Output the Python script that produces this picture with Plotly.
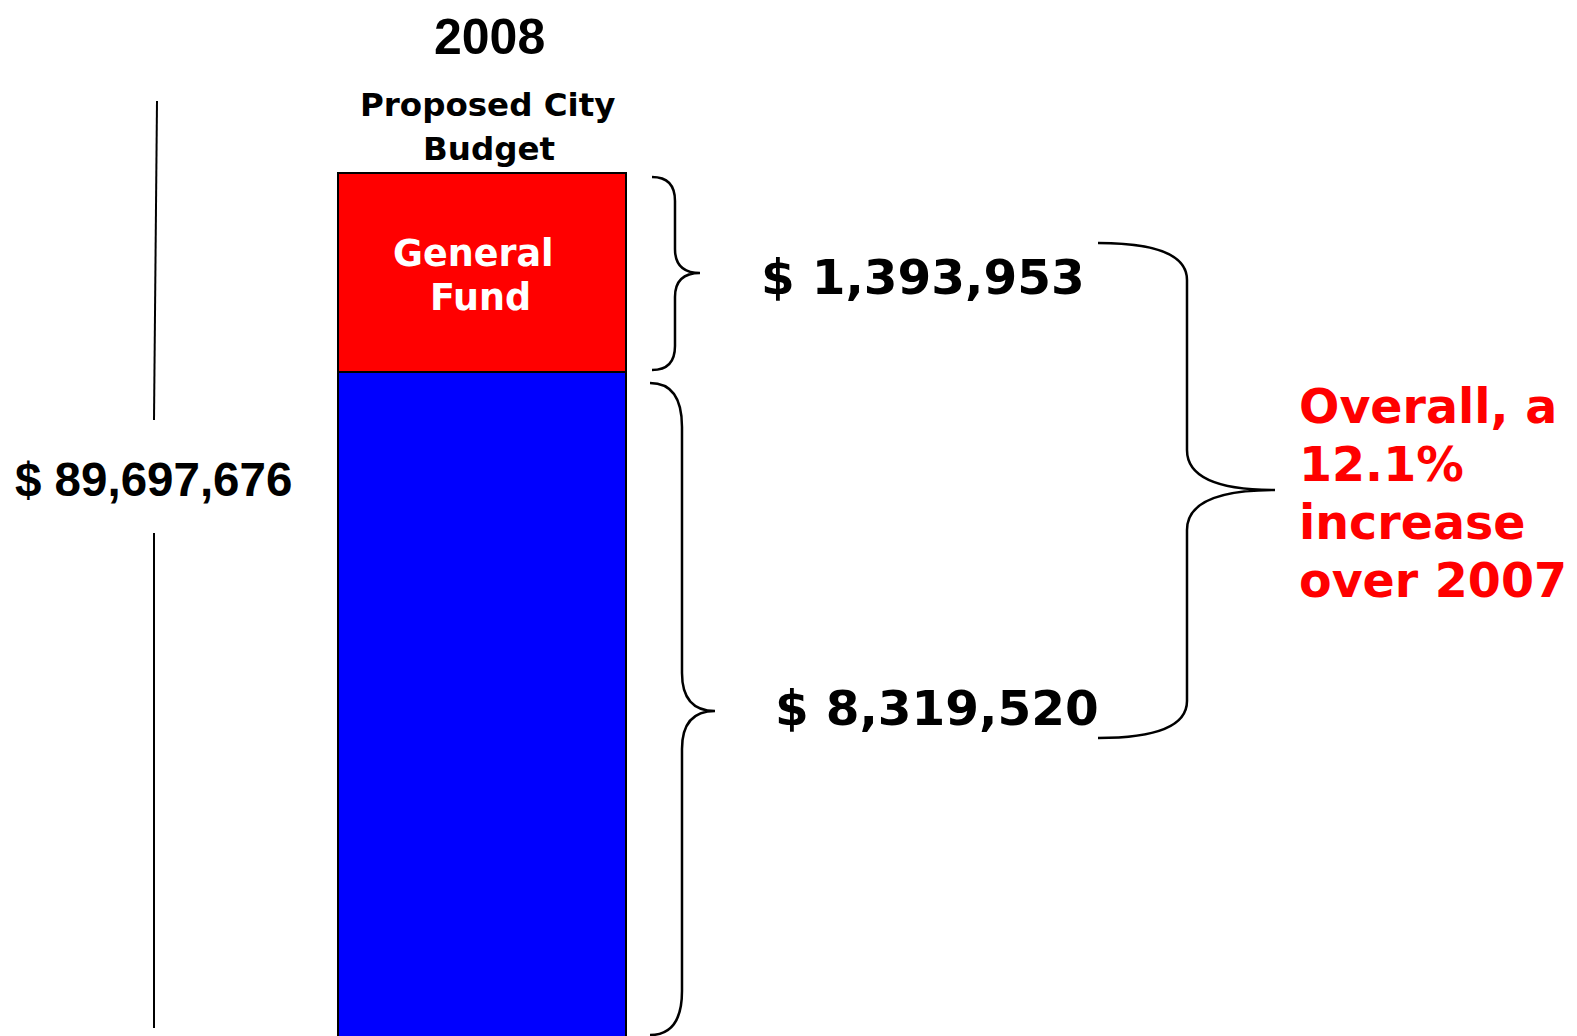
import plotly.graph_objects as go

# ---- data (values in millions of dollars) ----
categories = [0]
other_funds = [69.1]
general_fund = [20.6]
segment_names = ["Other Funds", "General Fund"]
year_label = "2008"
bar_title = ["Proposed City", "Budget"]
total_label = "$ 89,697,676"
gf_increase_label = "$ 1,393,953"
other_increase_label = "$ 8,319,520"
summary_lines = ["Overall, a", "12.1%", "increase", "over 2007"]

W, H = 1577, 1036
OFF = 8  # page body margin offset


def px(x):
    return (x - OFF) / W


def py(y):
    return 1 - (y - OFF) / H


def P(x, y):
    return f"{px(x):.5f},{py(y):.5f}"


def brace(x0, y0, y1, xv, xt, yt, r1, r2):
    # right-pointing curly brace in pixel coords -> paper path
    return (
        f"M {P(x0, y0)} Q {P(xv, y0)} {P(xv, y0 + r1)} "
        f"L {P(xv, yt - r2)} Q {P(xv, yt)} {P(xt, yt)} "
        f"Q {P(xv, yt)} {P(xv, yt + r2)} "
        f"L {P(xv, y1 - r1)} Q {P(xv, y1)} {P(x0, y1)}"
    )


fig = go.Figure()
fig.add_trace(go.Bar(x=categories, y=other_funds, width=1, name=segment_names[0],
                     marker=dict(color="#0000FF", line=dict(color="black", width=2.5))))
fig.add_trace(go.Bar(x=categories, y=general_fund, width=1, name=segment_names[1],
                     marker=dict(color="#FF0000", line=dict(color="black", width=2.5))))

shapes = []
brace_style = dict(color="black", width=2.5)
line_style = dict(color="black", width=2)
shapes.append(dict(type="path", xref="paper", yref="paper",
                   path=brace(652, 177, 370, 675, 700, 273, 24, 24), line=brace_style))
shapes.append(dict(type="path", xref="paper", yref="paper",
                   path=brace(650, 383, 1035, 682, 715, 711, 44, 38), line=brace_style))
shapes.append(dict(type="path", xref="paper", yref="paper",
                   path=brace(1098, 243, 738, 1187, 1275, 490, 37, 40), line=brace_style))
shapes.append(dict(type="line", xref="paper", yref="paper",
                   x0=px(157), y0=py(101), x1=px(154), y1=py(420), line=line_style))
shapes.append(dict(type="line", xref="paper", yref="paper",
                   x0=px(154), y0=py(533), x1=px(154), y1=py(1028), line=line_style))

annotations = []


def ann(text, x, y, size, family="DejaVu Sans", color="black", xanchor="center"):
    annotations.append(dict(text=f"<b>{text}</b>", x=px(x), y=py(y), xref="paper", yref="paper",
                            xanchor=xanchor, yanchor="middle", showarrow=False,
                            font=dict(family=family, size=size, color=color)))


ann(year_label, 490, 37, 50, family="Liberation Sans")
ann(bar_title[0], 487, 105, 32.5)
ann(bar_title[1], 489, 149, 32.5)
ann("General", 474, 253, 36.5, color="white")
ann("Fund", 480, 297, 36.5, color="white")
ann(gf_increase_label, 923, 277, 48.5)
ann(other_increase_label, 937, 708, 48.5)
ann(total_label, 153, 479, 47.5, family="Liberation Sans")
for i, t in enumerate(summary_lines):
    ann(t, 1297, 406 + 58 * i, 47.5, color="#FF0000", xanchor="left")

# axis mapping: bar spans x 338..626 px, top at 173 px, split at 372 px
bar_center_px = 482 - OFF
bar_width_px = 288
k = (372 - 173) / general_fund[0]
top_fig_px = 173 - OFF
r0 = (other_funds[0] + general_fund[0]) - (H - top_fig_px) / k
fig.update_layout(
    width=W, height=H, margin=dict(l=0, r=0, t=0, b=0),
    barmode="stack", showlegend=False,
    paper_bgcolor="white", plot_bgcolor="white",
    xaxis=dict(visible=False, range=[-bar_center_px / bar_width_px, (W - bar_center_px) / bar_width_px]),
    yaxis=dict(visible=False, range=[r0, r0 + H / k]),
    shapes=shapes, annotations=annotations,
)
fig.write_html("out.html")
